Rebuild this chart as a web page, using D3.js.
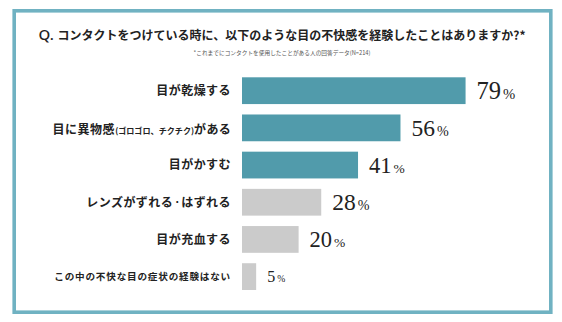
<!DOCTYPE html>
<html><head><meta charset="utf-8">
<script src="https://cdn.jsdelivr.net/npm/d3@7"></script>
<style>
html,body{margin:0;padding:0;background:#fff;}
svg{display:block;}
</style></head>
<body>
<svg id="chart" width="562" height="322"></svg>
<script>
// ---- data ----
const categories = [
  "目が乾燥する",
  "目に異物感(ゴロゴロ、チクチク)がある",
  "目がかすむ",
  "レンズがずれる・はずれる",
  "目が充血する",
  "この中の不快な目の症状の経験はない"
];
const values = [79, 56, 41, 28, 20, 5];
const highlighted = [true, true, true, false, false, false];
const titleQ = "Q.";
const titleText = "コンタクトをつけている時に、以下のような目の不快感を経験したことはありますか?*";
const subtitleText = "*これまでにコンタクトを使用したことがある人の回答データ(N=214)";

// ---- styles ----
const valueFontSizes = [24.5, 23.5, 22.5, 23.5, 22.5, 16];
const teal = "#519bab", gray = "#cbcbcb", frame = "#70b2c2";

const svg = d3.select("#chart");

// frame
svg.append("rect").attr("x", 14.2).attr("y", 10.8).attr("width", 536.6).attr("height", 301.4)
  .attr("fill", "none").attr("stroke", frame).attr("stroke-width", 3.6);

// title
const t = svg.append("text").attr("x", 282).attr("y", 39.6).attr("text-anchor", "middle")
  .attr("fill", "#222");
t.append("tspan").attr("font-family", "'Noto Sans', sans-serif").attr("font-size", 15)
  .attr("font-weight", 500).text(titleQ + " ");
t.append("tspan").attr("font-family", "'Noto Sans CJK JP', sans-serif").attr("font-size", 12)
  .attr("font-weight", 700).text(titleText);

svg.append("text").attr("x", 282).attr("y", 55.3).attr("text-anchor", "middle")
  .attr("font-family", "'Noto Sans CJK JP', sans-serif").attr("font-size", 5.7)
  .attr("fill", "#555").text(subtitleText);

// scales
const x = d3.scaleLinear().domain([0, 100]).range([242, 525]);
const y = d3.scaleBand().domain(categories).range([77.3, 290]).paddingInner(0.28).paddingOuter(0);

// bars
svg.append("g").selectAll("rect").data(categories).join("rect")
  .attr("x", x(0))
  .attr("y", d => y(d))
  .attr("width", (d, i) => x(values[i]) - x(0))
  .attr("height", y.bandwidth())
  .attr("fill", (d, i) => highlighted[i] ? teal : gray);

// category labels
const lab = svg.append("g").selectAll("text").data(categories).join("text")
  .attr("x", 231)
  .attr("y", d => y(d) + y.bandwidth() / 2)
  .attr("dy", "0.36em")
  .attr("text-anchor", "end")
  .attr("font-family", "'Noto Sans CJK JP', sans-serif")
  .attr("font-weight", 700)
  .attr("fill", "#222");

lab.each(function(d, i) {
  const el = d3.select(this);
  const m = d.match(/^(.*?)(\(.*\))(.*)$/);
  const dot = d.indexOf("・");
  if (m) {
    el.append("tspan").attr("font-size", 12).attr("letter-spacing", 0.5).text(m[1]);
    el.append("tspan").attr("font-size", 8.1).text(m[2]);
    el.append("tspan").attr("font-size", 12).attr("letter-spacing", 0.3).text(m[3]);
  } else if (dot >= 0) {
    el.attr("font-size", 12).attr("letter-spacing", 0.45);
    el.append("tspan").text(d.slice(0, dot));
    el.append("tspan").attr("font-size", 8).attr("letter-spacing", 0).attr("dy", -1.6).text("・");
    el.append("tspan").attr("dy", 1.6).text(d.slice(dot + 1));
  } else if (i === categories.length - 1) {
    el.attr("font-size", 9.6).attr("letter-spacing", 0.8).text(d);
  } else {
    el.attr("font-size", 12).attr("letter-spacing", 0.45).text(d);
  }
});

// value labels
const vl = svg.append("g").selectAll("text").data(categories).join("text")
  .attr("x", (d, i) => x(values[i]) + 11)
  .attr("y", (d, i) => y(d) + y.bandwidth() / 2 + valueFontSizes[i] * 0.34)
  .attr("font-family", "'Liberation Serif', serif")
  .attr("fill", "#222");
vl.append("tspan").attr("font-size", (d, i) => valueFontSizes[i]).text((d, i) => values[i]);
vl.append("tspan").attr("font-size", (d, i) => valueFontSizes[i] * 0.6).attr("dx", 2).text("%");
</script>
</body></html>
